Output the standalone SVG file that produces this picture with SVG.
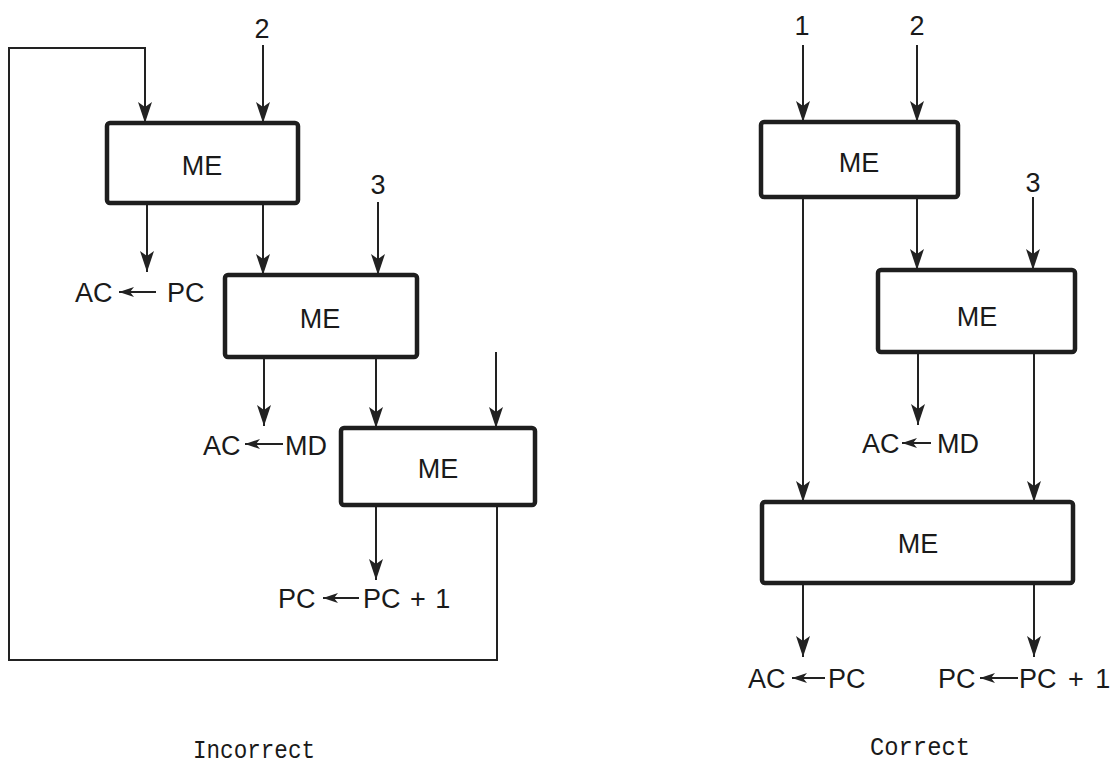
<svg xmlns="http://www.w3.org/2000/svg" width="1112" height="765" viewBox="0 0 1112 765">
<style>
.box{fill:#fff;stroke:#1e1e1e;stroke-width:4.5}
.ln{fill:none;stroke:#222;stroke-width:2}
.ar{fill:none;stroke:#222;stroke-width:2;marker-end:url(#ah)}
.sa{fill:none;stroke:#222;stroke-width:2;marker-end:url(#sh)}
.t{font-family:"Liberation Sans",Arial,sans-serif;font-size:27px;fill:#1a1a1a}
.me{font-family:"Liberation Sans",Arial,sans-serif;font-size:27px;fill:#1a1a1a;text-anchor:middle}
.n{font-family:"Liberation Sans",Arial,sans-serif;font-size:27px;fill:#1a1a1a;text-anchor:middle}
.cap{font-family:"Liberation Mono","Courier New",monospace;font-size:25px;fill:#1a1a1a}
</style>
<defs>
<marker id="ah" markerUnits="userSpaceOnUse" markerWidth="22" markerHeight="16" viewBox="0 -8 22 16" refX="21" refY="0" orient="auto">
<path d="M0,-7 L21,0 L0,7 L5,0 Z" fill="#222"/>
</marker>
<marker id="sh" markerUnits="userSpaceOnUse" markerWidth="16" markerHeight="12" viewBox="0 -6 16 12" refX="15" refY="0" orient="auto">
<path d="M0,-5 L15,0 L0,5 L4,0 Z" fill="#222"/>
</marker>
</defs>

<g id="connectors">
<!-- Incorrect -->
<polyline class="ar" points="497,505 497,660 9,660 9,48 145,48 145,123"/>
<line class="ar" x1="263" y1="45" x2="263" y2="123"/>
<line class="ar" x1="147" y1="203" x2="147" y2="272"/>
<line class="ar" x1="263" y1="203" x2="263" y2="275"/>
<line class="ar" x1="378" y1="202" x2="378" y2="275"/>
<line class="ar" x1="264" y1="357" x2="264" y2="426"/>
<line class="ar" x1="376" y1="357" x2="376" y2="428"/>
<line class="ar" x1="496" y1="352" x2="496" y2="428"/>
<line class="ar" x1="376" y1="505" x2="376" y2="580"/>
<!-- Correct -->
<line class="ar" x1="803" y1="45" x2="803" y2="122"/>
<line class="ar" x1="917" y1="45" x2="917" y2="122"/>
<line class="ar" x1="803" y1="197" x2="803" y2="502"/>
<line class="ar" x1="917" y1="197" x2="917" y2="270"/>
<line class="ar" x1="1033" y1="197" x2="1033" y2="270"/>
<line class="ar" x1="918" y1="352" x2="918" y2="425"/>
<line class="ar" x1="1034" y1="352" x2="1034" y2="502"/>
<line class="ar" x1="803" y1="583" x2="803" y2="657"/>
<line class="ar" x1="1034" y1="583" x2="1034" y2="657"/>
<!-- assignment arrows -->
<line class="sa" x1="156" y1="292" x2="119" y2="292"/>
<line class="sa" x1="283" y1="444" x2="245" y2="444"/>
<line class="sa" x1="359" y1="598" x2="323" y2="598"/>
<line class="sa" x1="825" y1="678" x2="792" y2="678"/>
<line class="sa" x1="1018" y1="678" x2="980" y2="678"/>
<line class="sa" x1="931" y1="443" x2="902" y2="443"/>
</g>

<g id="L_ME1"><rect class="box" x="107" y="123" width="191" height="80" rx="3"/><text class="me" x="202" y="175">ME</text></g>
<g id="L_ME2"><rect class="box" x="225" y="275" width="192" height="82" rx="3"/><text class="me" x="320" y="328">ME</text></g>
<g id="L_ME3"><rect class="box" x="341" y="428" width="194" height="77" rx="3"/><text class="me" x="438" y="478">ME</text></g>

<g id="R_ME1"><rect class="box" x="761" y="122" width="197" height="75" rx="3"/><text class="me" x="859" y="172">ME</text></g>
<g id="R_ME2"><rect class="box" x="878" y="270" width="197" height="82" rx="3"/><text class="me" x="977" y="326">ME</text></g>
<g id="R_ME3"><rect class="box" x="762" y="502" width="311" height="81" rx="3"/><text class="me" x="918" y="553">ME</text></g>

<g id="labels">
<text class="n" x="262" y="38">2</text>
<text class="n" x="378" y="194">3</text>
<text class="n" x="802" y="35">1</text>
<text class="n" x="917" y="35">2</text>
<text class="n" x="1033" y="192">3</text>

<text class="t" x="75" y="302">AC</text><text class="t" x="167" y="302">PC</text>
<text class="t" x="203" y="455">AC</text><text class="t" x="285" y="455">MD</text>
<text class="t" x="278" y="608">PC</text><text class="t" x="363" y="608" style="word-spacing:2px">PC + 1</text>

<text class="t" x="748" y="688">AC</text><text class="t" x="828" y="688">PC</text>
<text class="t" x="862" y="453">AC</text><text class="t" x="937" y="453">MD</text>
<text class="t" x="938" y="688">PC</text><text class="t" x="1019" y="688" style="word-spacing:4px">PC + 1</text>

<text class="cap" x="193" y="758" textLength="122" lengthAdjust="spacingAndGlyphs">Incorrect</text>
<text class="cap" x="870" y="755" textLength="100" lengthAdjust="spacingAndGlyphs">Correct</text>
</g>
</svg>
